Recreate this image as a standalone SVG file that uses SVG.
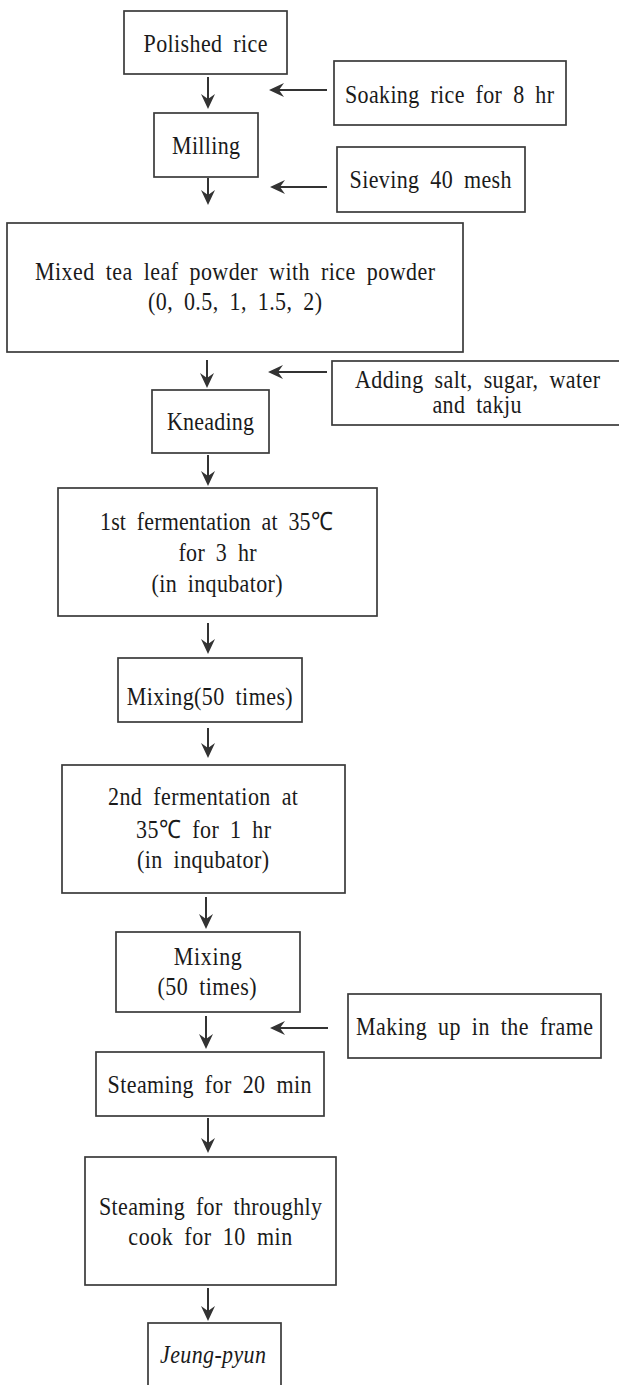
<svg xmlns="http://www.w3.org/2000/svg" width="619" height="1385" viewBox="0 0 619 1385" font-family="Liberation Serif, Times New Roman, serif">
<style>
.box{fill:#fff;stroke:#3a3a3a;stroke-width:1.7}
.t{font-size:22px;fill:#1a1a1a;text-anchor:middle;word-spacing:5px}
.it{font-style:italic}
.c{stroke:#333;stroke-width:2;fill:none;marker-end:url(#ah)}
</style>
<defs>
<marker id="ah" viewBox="0 0 15 14" refX="5" refY="7" markerWidth="15" markerHeight="14" markerUnits="userSpaceOnUse" orient="auto">
<path d="M0,0 L15,7 L0,14 L5,7 Z" fill="#333"/>
</marker>
</defs>
<rect width="619" height="1385" fill="#fff"/>

<g id="n-polished"><rect class="box" x="124" y="11" width="163" height="63"/><text class="t" font-family="Liberation Serif, serif" transform="translate(205.5,52) scale(1,1.15)" textLength="124" lengthAdjust="spacing">Polished rice</text></g>
<g id="n-soaking"><rect class="box" x="334" y="61" width="232" height="64"/><text class="t" font-family="Liberation Serif, serif" transform="translate(449.5,103) scale(1,1.15)" textLength="209" lengthAdjust="spacing">Soaking rice for 8 hr</text></g>
<g id="n-milling"><rect class="box" x="154" y="113" width="104" height="64"/><text class="t" font-family="Liberation Serif, serif" transform="translate(206,154) scale(1,1.15)" textLength="68" lengthAdjust="spacing">Milling</text></g>
<g id="n-sieving"><rect class="box" x="337" y="147" width="188" height="65"/><text class="t" font-family="Liberation Serif, serif" transform="translate(430.5,188) scale(1,1.15)" textLength="162" lengthAdjust="spacing">Sieving 40 mesh</text></g>
<g id="n-mixed"><rect class="box" x="7" y="223" width="456" height="129"/><text class="t" font-family="Liberation Serif, serif" transform="translate(235,280) scale(1,1.15)" textLength="400" lengthAdjust="spacing">Mixed tea leaf powder with rice powder</text><text class="t" font-family="Liberation Serif, serif" transform="translate(235,310) scale(1,1.15)" textLength="174" lengthAdjust="spacing">(0, 0.5, 1, 1.5, 2)</text></g>
<g id="n-adding"><rect class="box" x="332" y="361" width="292" height="64"/><text class="t" font-family="Liberation Serif, serif" transform="translate(477.5,388) scale(1,1.15)" textLength="245" lengthAdjust="spacing">Adding salt, sugar, water</text><text class="t" font-family="Liberation Serif, serif" transform="translate(477,413) scale(1,1.15)" textLength="89" lengthAdjust="spacing">and takju</text></g>
<g id="n-kneading"><rect class="box" x="152" y="390" width="117" height="63"/><text class="t" font-family="Liberation Serif, serif" transform="translate(210.5,430) scale(1,1.15)" textLength="87" lengthAdjust="spacing">Kneading</text></g>
<g id="n-ferm1"><rect class="box" x="58" y="488" width="319" height="128"/><text class="t" font-family="Liberation Serif, serif" transform="translate(216.5,530) scale(1,1.15)" textLength="233" lengthAdjust="spacing">1st fermentation at 35℃</text><text class="t" font-family="Liberation Serif, serif" transform="translate(217.5,561) scale(1,1.15)" textLength="78" lengthAdjust="spacing">for 3 hr</text><text class="t" font-family="Liberation Serif, serif" transform="translate(217,592) scale(1,1.15)" textLength="131" lengthAdjust="spacing">(in inqubator)</text></g>
<g id="n-mixing1"><rect class="box" x="118" y="658" width="184" height="64"/><text class="t" font-family="Liberation Serif, serif" transform="translate(209.7,705) scale(1,1.15)" textLength="166" lengthAdjust="spacing">Mixing(50 times)</text></g>
<g id="n-ferm2"><rect class="box" x="62" y="765" width="283" height="128"/><text class="t" font-family="Liberation Serif, serif" transform="translate(203,805) scale(1,1.15)" textLength="190" lengthAdjust="spacing">2nd fermentation at</text><text class="t" font-family="Liberation Serif, serif" transform="translate(203.5,838) scale(1,1.15)" textLength="135" lengthAdjust="spacing">35℃ for 1 hr</text><text class="t" font-family="Liberation Serif, serif" transform="translate(203,868) scale(1,1.15)" textLength="132" lengthAdjust="spacing">(in inqubator)</text></g>
<g id="n-mixing2"><rect class="box" x="116" y="932" width="184" height="80"/><text class="t" font-family="Liberation Serif, serif" transform="translate(207.8,965) scale(1,1.15)" textLength="68" lengthAdjust="spacing">Mixing</text><text class="t" font-family="Liberation Serif, serif" transform="translate(207,995) scale(1,1.15)" textLength="99" lengthAdjust="spacing">(50 times)</text></g>
<g id="n-making"><rect class="box" x="348" y="994" width="253" height="64"/><text class="t" font-family="Liberation Serif, serif" transform="translate(474.5,1035) scale(1,1.15)" textLength="237" lengthAdjust="spacing">Making up in the frame</text></g>
<g id="n-steam20"><rect class="box" x="96" y="1052" width="228" height="64"/><text class="t" font-family="Liberation Serif, serif" transform="translate(209.5,1093) scale(1,1.15)" textLength="204" lengthAdjust="spacing">Steaming for 20 min</text></g>
<g id="n-steam10"><rect class="box" x="85" y="1157" width="251" height="128"/><text class="t" font-family="Liberation Serif, serif" transform="translate(210.5,1215) scale(1,1.15)" textLength="223" lengthAdjust="spacing">Steaming for throughly</text><text class="t" font-family="Liberation Serif, serif" transform="translate(210.3,1245) scale(1,1.15)" textLength="164" lengthAdjust="spacing">cook for 10 min</text></g>
<g id="n-jeung"><rect class="box" x="148" y="1323" width="133" height="80"/><text class="t it" font-family="Liberation Serif, serif" transform="translate(213,1363) scale(1,1.15)" textLength="106" lengthAdjust="spacing">Jeung-pyun</text></g>

<g id="connectors">
<line class="c" x1="208" y1="77" x2="208" y2="99"/>
<line class="c" x1="208" y1="178" x2="208" y2="195"/>
<line class="c" x1="207" y1="360" x2="207" y2="378"/>
<line class="c" x1="208" y1="455" x2="208" y2="476"/>
<line class="c" x1="208" y1="623" x2="208" y2="644"/>
<line class="c" x1="208" y1="728" x2="208" y2="748"/>
<line class="c" x1="206" y1="897" x2="206" y2="919"/>
<line class="c" x1="206" y1="1016" x2="206" y2="1039"/>
<line class="c" x1="208" y1="1118" x2="208" y2="1143"/>
<line class="c" x1="208" y1="1288" x2="208" y2="1311"/>
<line class="c" x1="327" y1="90" x2="279" y2="90"/>
<line class="c" x1="327" y1="187" x2="280" y2="187"/>
<line class="c" x1="327" y1="372" x2="278" y2="372"/>
<line class="c" x1="328" y1="1028" x2="280" y2="1028"/>
</g>
</svg>
